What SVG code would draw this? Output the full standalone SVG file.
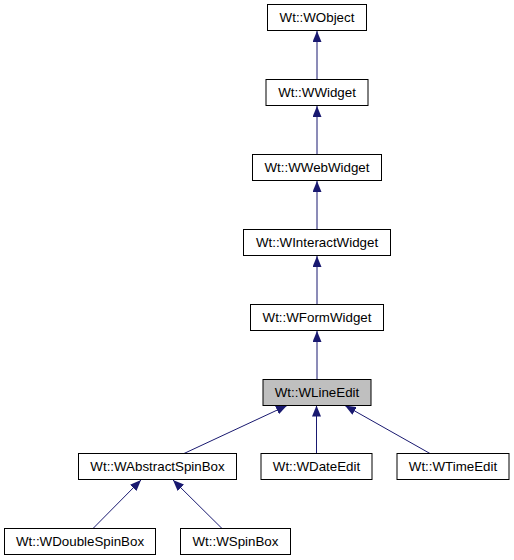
<svg xmlns="http://www.w3.org/2000/svg" width="514" height="560" viewBox="0 0 514 560">
<style>
.n rect{fill:#ffffff;stroke:#000000;stroke-width:1}
.n.cur rect{fill:#bfbfbf}
.n text{font-family:"Liberation Sans",Arial,sans-serif;font-size:13.33px;fill:#000000;text-anchor:middle}
.e line{stroke:#191970;stroke-width:1;marker-end:url(#ah)}
</style>
<defs>
<marker id="ah" viewBox="0 0 11 9" refX="11" refY="4.5" markerWidth="11" markerHeight="9" markerUnits="userSpaceOnUse" orient="auto">
<path d="M0,0 L11,4.5 L0,9 z" fill="#191970"/>
</marker>
</defs>
<rect width="514" height="560" fill="#ffffff"/>
<g id="edges" class="e">
<line x1="317" y1="79.5" x2="317" y2="31"/>
<line x1="317" y1="154.5" x2="317" y2="106"/>
<line x1="317" y1="229.5" x2="317" y2="181"/>
<line x1="317" y1="304.5" x2="317" y2="256"/>
<line x1="317" y1="379.5" x2="317" y2="331"/>
<line x1="316.5" y1="453.5" x2="316.5" y2="405.5"/>
<line x1="184" y1="453.5" x2="287" y2="405.5"/>
<line x1="430" y1="453.5" x2="345" y2="405.5"/>
<line x1="93" y1="528.5" x2="141" y2="480"/>
<line x1="222" y1="528.5" x2="173" y2="480"/>
</g>
<g id="WObject" class="n"><rect x="267.5" y="4.5" width="99" height="26"/><text x="317" y="22">Wt::WObject</text></g>
<g id="WWidget" class="n"><rect x="266" y="79.5" width="102" height="26"/><text x="317" y="97">Wt::WWidget</text></g>
<g id="WWebWidget" class="n"><rect x="252.5" y="154.5" width="129" height="26"/><text x="317" y="172">Wt::WWebWidget</text></g>
<g id="WInteractWidget" class="n"><rect x="243.5" y="229.5" width="147" height="26"/><text x="317" y="247">Wt::WInteractWidget</text></g>
<g id="WFormWidget" class="n"><rect x="250.5" y="304.5" width="133" height="26"/><text x="317" y="322">Wt::WFormWidget</text></g>
<g id="WLineEdit" class="n cur"><rect x="263" y="379.5" width="108" height="26"/><text x="317" y="397">Wt::WLineEdit</text></g>
<g id="WAbstractSpinBox" class="n"><rect x="78.5" y="453.5" width="158" height="26"/><text x="157.5" y="471">Wt::WAbstractSpinBox</text></g>
<g id="WDateEdit" class="n"><rect x="261" y="453.5" width="111" height="26"/><text x="316.5" y="471">Wt::WDateEdit</text></g>
<g id="WTimeEdit" class="n"><rect x="397" y="453.5" width="112" height="26"/><text x="453" y="471">Wt::WTimeEdit</text></g>
<g id="WDoubleSpinBox" class="n"><rect x="4.5" y="528.5" width="151" height="26"/><text x="80" y="546">Wt::WDoubleSpinBox</text></g>
<g id="WSpinBox" class="n"><rect x="180.5" y="528.5" width="110" height="26"/><text x="235.5" y="546">Wt::WSpinBox</text></g>
</svg>
